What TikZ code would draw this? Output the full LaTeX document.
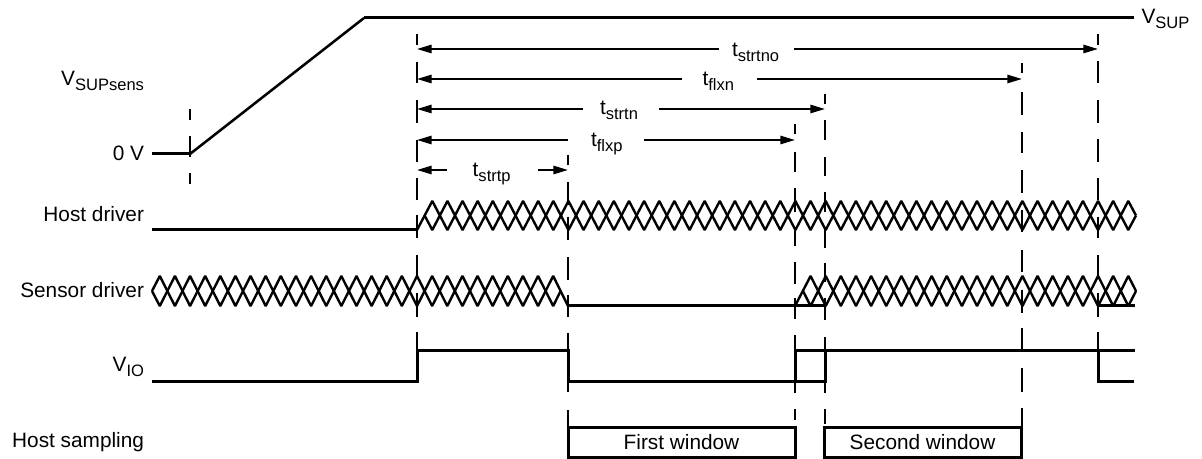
\documentclass[tikz,border=0pt]{standalone}
\usepackage{fontspec}
\setmainfont{Liberation Sans}
\usetikzlibrary{arrows.meta}
\newcommand{\lblfont}{\fontsize{15.6}{18}\selectfont}
\newcommand{\subs}[1]{\raisebox{-3.6pt}{\fontsize{12.4}{14}\selectfont #1}}
\newcommand{\strand}[6]{\draw[wave] (#1) \foreach \k in {0,...,#3}{ -- ({#2+\k*15.13},{mod(\k,2)==0 ? #4 : #5}) } -- (#6);}
\tikzset{
  x=0.75pt, y=-0.75pt,
  lbl/.style={inner sep=0pt, outer sep=0pt, font=\lblfont, text=black},
  rlbl/.style={lbl, anchor=base east},
  tlbl/.style={lbl, anchor=base west},
  signal/.style={line width=2.25pt, line cap=butt, line join=miter},
  ramp/.style={line width=1.9pt},
  wave/.style={line width=1.8pt, line join=bevel},
  tick/.style={line width=1.5pt},
  dim/.style={line width=1.5pt, -{Triangle[length=11pt,width=6.2pt]}},
  winbox/.style={draw, line width=2.25pt, inner sep=0pt, outer sep=0pt, minimum height=22.2pt, font=\lblfont},
}
\begin{document}
\begin{tikzpicture}
\useasboundingbox (0,0) rectangle (1202,459);
% supply
\coordinate (s0) at (152,154); \coordinate (s1) at (190,154);
\coordinate (s2) at (364,18);  \coordinate (s3) at (1134,18);
\draw[signal] (s0) -- (s1);
\draw[ramp] (s1) -- (s2);
\draw[signal] (s2) -- (s3);
% vertical time marks
\foreach \a/\b in {109/120,136/157,173/184}{\draw[tick] (190,\a) -- (190,\b);}
\foreach \a/\b in {34/45,62/83,100/123,140/162,178/200,215/238,255/278,293/317,332/352}{\draw[tick] (417,\a) -- (417,\b);}
\foreach \a/\b in {155/165,182/205,217/240,257/280,295/317,333/355,370/392,410/427}{\draw[tick] (568,\a) -- (568,\b);}
\foreach \a/\b in {124/134,152/172,188/212,230/246,262/284,298/319,335/393,409/420}{\draw[tick] (795,\a) -- (795,\b);}
\foreach \a/\b in {94/104,120/140,157/176,192/212,230/248,263/282,298/320,337/393,409/424}{\draw[tick] (825,\a) -- (825,\b);}
\foreach \a/\b in {63/73,92/115,132/153,170/193,210/232,250/272,290/313,328/352,368/392,408/427}{\draw[tick] (1022,\a) -- (1022,\b);}
\foreach \a/\b in {34/45,61/83,100/123,139/162,178/200,217/238,255/278,293/317,332/351}{\draw[tick] (1098,\a) -- (1098,\b);}
% dimension arrows
\coordinate (a1l) at (417,49);  \coordinate (a1m) at (718.6,49);  \coordinate (a1n) at (794.4,49);  \coordinate (a1r) at (1098,49);
\coordinate (a2l) at (417,79);  \coordinate (a2m) at (681.5,79);  \coordinate (a2n) at (757,79);    \coordinate (a2r) at (1022,79);
\coordinate (a3l) at (417,109); \coordinate (a3m) at (583,109);   \coordinate (a3n) at (659,109);   \coordinate (a3r) at (825,109);
\coordinate (a4l) at (417,140); \coordinate (a4m) at (568,140);   \coordinate (a4n) at (644,140);   \coordinate (a4r) at (795,140);
\coordinate (a5l) at (417,170); \coordinate (a5m) at (446.7,170); \coordinate (a5n) at (538,170);   \coordinate (a5r) at (568,170);
\foreach \i in {1,...,5}{
  \draw[dim] (a\i m) -- (a\i l);
  \draw[dim] (a\i n) -- (a\i r);
}
% host driver
\coordinate (h0) at (152,230); \coordinate (h1) at (417,230);
\coordinate (hc) at (424.6,215.5); \coordinate (he) at (1136,215.5);
\draw[signal] (h0) -- (h1);
\strand{h1}{432.3}{46}{201}{230}{he}
\strand{hc}{432.3}{46}{230}{201}{he}
% sensor driver
\coordinate (d0) at (152,291);  \coordinate (d1) at (568,306);  \coordinate (d1c) at (560.6,291);
\coordinate (d2) at (795,306);  \coordinate (d2c) at (803,291); \coordinate (d3) at (825,306);
\coordinate (de) at (1136,291); \coordinate (d4) at (1098,306); \coordinate (d5) at (1135,306);
\strand{d0}{159.8}{26}{276}{306}{d1}
\strand{d0}{159.8}{26}{306}{276}{d1c}
\draw[signal] (d1) -- (d3);
\strand{d2}{810.6}{21}{276}{306}{de}
\strand{d2c}{810.6}{21}{306}{276}{de}
\draw[signal] (d4) -- (d5);
% VIO
\coordinate (v0) at (152,381); \coordinate (v1) at (417,381); \coordinate (v2) at (417,351);
\coordinate (v3) at (568,351); \coordinate (v4) at (568,381); \coordinate (v5) at (825,381);
\coordinate (v6) at (825,351); \coordinate (v7) at (795,381); \coordinate (v8) at (795,351);
\coordinate (v9) at (1135,351); \coordinate (v10) at (1098,351); \coordinate (v11) at (1098,381);
\coordinate (v12) at (1134,381);
\draw[signal] (v0) -- (v1) -- (v2) -- (v3) -- (v4) -- (v5) -- (v6);
\draw[signal] (v7) -- (v8) -- (v9);
\draw[signal] (v10) -- (v11) -- (v12);
% windows
\node[winbox, minimum width=170.25pt] (w1) at (681.5,442.5) {First window};
\node[winbox, minimum width=147.75pt] (w2) at (922.5,442.5) {Second window};
% labels
\node[rlbl] (lsens) at (144,86) {V\subs{SUPsens}};
\node[rlbl] (l0v) at (144,161) {0 V};
\node[rlbl] (lhost) at (144,221.5) {Host driver};
\node[rlbl] (lsensor) at (144,298) {Sensor driver};
\node[rlbl] (lvio) at (144,371.5) {V\subs{IO}};
\node[rlbl] (lsamp) at (144,447.5) {Host sampling};
\node[tlbl] (lsup) at (1141.5,24) {V\subs{SUP}};
\node[tlbl] (t1) at (732,56.5) {t\subs{strtno}};
\node[tlbl] (t2) at (702.6,86) {t\subs{flxn}};
\node[tlbl] (t3) at (600,115) {t\subs{strtn}};
\node[tlbl] (t4) at (591,146.5) {t\subs{flxp}};
\node[tlbl] (t5) at (472.7,176.5) {t\subs{strtp}};
\end{tikzpicture}
\end{document}
